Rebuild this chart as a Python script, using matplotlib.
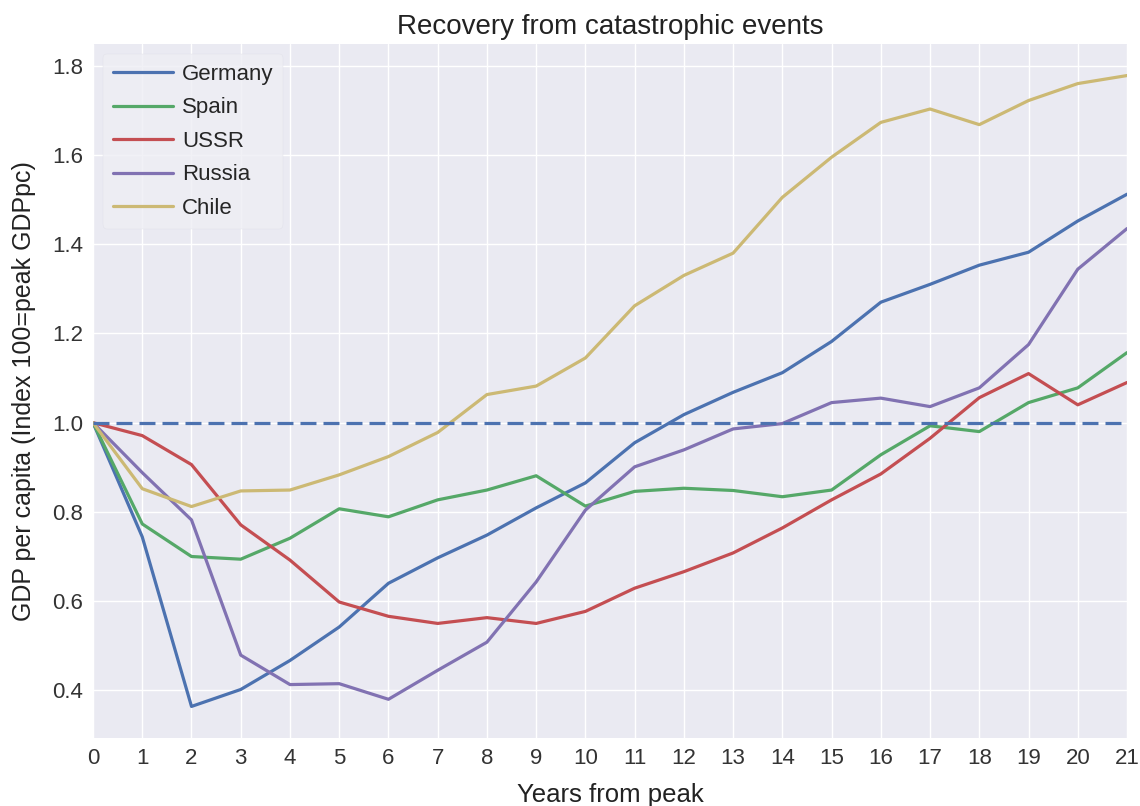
import matplotlib
matplotlib.use("Agg")
import matplotlib.pyplot as plt

years = list(range(22))

germany = [1.0, 0.744, 0.364, 0.402, 0.467, 0.542, 0.640, 0.697, 0.748, 0.809, 0.865,
           0.955, 1.018, 1.068, 1.112, 1.182, 1.270, 1.310, 1.353, 1.382, 1.452, 1.512]
spain = [1.0, 0.773, 0.700, 0.694, 0.741, 0.807, 0.789, 0.827, 0.849, 0.881, 0.813,
         0.846, 0.853, 0.848, 0.834, 0.849, 0.928, 0.993, 0.980, 1.045, 1.078, 1.157]
ussr = [1.0, 0.971, 0.906, 0.771, 0.692, 0.598, 0.566, 0.550, 0.563, 0.550, 0.577,
        0.629, 0.666, 0.708, 0.764, 0.827, 0.885, 0.965, 1.056, 1.110, 1.040, 1.090]
russia = [1.0, 0.888, 0.782, 0.479, 0.413, 0.415, 0.380, 0.445, 0.508, 0.643, 0.804,
          0.901, 0.939, 0.986, 0.998, 1.045, 1.055, 1.036, 1.078, 1.175, 1.344, 1.435]
chile = [1.0, 0.852, 0.812, 0.847, 0.849, 0.883, 0.924, 0.978, 1.063, 1.082, 1.145,
         1.262, 1.330, 1.380, 1.505, 1.595, 1.673, 1.703, 1.668, 1.722, 1.760, 1.778]

series = [("Germany", germany), ("Spain", spain), ("USSR", ussr),
          ("Russia", russia), ("Chile", chile)]

plt.style.use("seaborn-v0_8")
plt.rcParams["font.family"] = ["Liberation Sans", "DejaVu Sans"]

fig = plt.figure(figsize=(11.4, 8.06), dpi=100)
ax = fig.add_axes([0.0816, 0.0844, 0.907, 0.861])

for name, vals in series:
    ax.plot(years, vals, lw=2.3, label=name)

# peak level reference
ax.axhline(1.0, color="#4C72B0", ls="--", lw=2.3, dashes=(5, 2.2))

ax.set_xlim(0, 21)
ax.set_xticks(years)
ax.set_yticks([0.4, 0.6, 0.8, 1.0, 1.2, 1.4, 1.6, 1.8])
ax.tick_params(labelsize=16, colors="#333333")
ax.set_xlabel("Years from peak", fontsize=18.5, color="#222222", labelpad=10)
ax.set_ylabel("GDP per capita (Index 100=peak GDPpc)", fontsize=18, color="#222222",
              labelpad=12)
ax.set_title("Recovery from catastrophic events", fontsize=20, color="#222222", pad=7)

leg = ax.legend(loc="upper left", fontsize=16, frameon=True, handlelength=2.7,
                handletextpad=0.4, borderpad=0.45, labelspacing=0.56,
                borderaxespad=0.45)
leg.get_frame().set_facecolor("#EEEEF4")
leg.get_frame().set_edgecolor("#DDDDE6")

fig.savefig("out.png", dpi=100)
